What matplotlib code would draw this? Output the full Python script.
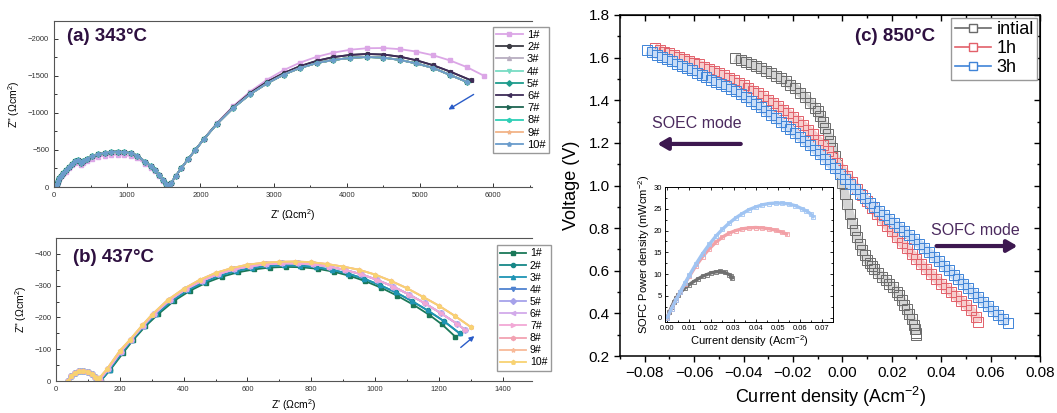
import matplotlib
matplotlib.use('Agg')
import matplotlib.pyplot as plt
from matplotlib.ticker import MultipleLocator
from matplotlib.lines import Line2D

plt.rcParams['font.family'] = ['Liberation Sans', 'DejaVu Sans']
plt.rcParams['mathtext.fontset'] = 'custom'
plt.rcParams['mathtext.rm'] = 'Liberation Sans'
plt.rcParams['mathtext.default'] = 'regular'

## Data ##
# (a) 343C impedance, three visible groups of spectra
a_re_rest = [30, 40, 55, 75, 100, 127, 160, 200, 241, 290, 332, 365, 400, 450, 520, 600, 690, 780, 870, 960,
             1050, 1140, 1243, 1320, 1380, 1440, 1493, 1535, 1565, 1600, 1660, 1740, 1830, 1926, 2050, 2225,
             2450, 2680, 2910, 3140, 3360, 3590, 3815, 4050, 4275, 4500, 4730, 4950, 5180, 5410, 5640]
a_im_rest = [0, -35, -80, -120, -155, -185, -225, -270, -315, -345, -365, -325, -350, -385, -415, -442, -463,
             -475, -478, -473, -458, -425, -342, -285, -230, -165, -95, -40, -5, -55, -145, -255, -375, -495,
             -650, -850, -1070, -1255, -1400, -1520, -1608, -1675, -1716, -1745, -1757, -1748, -1716, -1670,
             -1608, -1514, -1420]
a_re_dark = [30, 40, 55, 75, 100, 127, 160, 200, 241, 290, 332, 365, 400, 450, 520, 600, 690, 780, 870, 960,
             1050, 1140, 1243, 1320, 1380, 1440, 1493, 1535, 1565, 1600, 1660, 1740, 1830, 1926, 2050, 2225,
             2450, 2680, 2910, 3140, 3360, 3590, 3815, 4050, 4275, 4500, 4730, 4950, 5180, 5410, 5700]
a_im_dark = [0, -35, -80, -120, -155, -185, -225, -270, -315, -345, -365, -325, -350, -385, -415, -442, -463,
             -475, -478, -473, -458, -425, -342, -285, -230, -165, -95, -40, -5, -55, -145, -255, -375, -495,
             -652, -855, -1080, -1270, -1420, -1540, -1632, -1705, -1755, -1785, -1797, -1790, -1760, -1712,
             -1645, -1560, -1440]
a_re_1 = [30, 40, 55, 75, 100, 127, 160, 200, 241, 290, 332, 365, 400, 450, 520, 600, 690, 780, 870, 960,
          1050, 1140, 1243, 1320, 1380, 1440, 1493, 1535, 1565, 1600, 1660, 1740, 1830, 1926, 2050, 2225,
          2450, 2680, 2910, 3140, 3360, 3590, 3815, 4050, 4275, 4500, 4730, 4950, 5180, 5410, 5640, 5880]
a_im_1 = [0, -30, -72, -110, -142, -170, -207, -250, -292, -320, -338, -300, -322, -355, -383, -408, -425,
          -435, -437, -432, -418, -388, -312, -260, -210, -150, -85, -35, -5, -55, -145, -255, -375, -495,
          -655, -865, -1095, -1290, -1450, -1580, -1680, -1760, -1815, -1855, -1875, -1878, -1862, -1830,
          -1780, -1710, -1620, -1500]

a_labels = ['1#', '2#', '3#', '4#', '5#', '6#', '7#', '8#', '9#', '10#']
a_colors = ['#dba6e6', '#3c3c44', '#b8aec0', '#78dcc4', '#1e9c8c', '#3e2c58', '#1e6452', '#2ecfb6',
            '#f2b488', '#6a9ccc']
a_markers = ['s', 'o', '^', 'v', 'D', '<', '>', 'h', '*', 'p']
a_group = ['1', 'dark', 'rest', 'rest', 'rest', 'dark', 'rest', 'rest', 'rest', 'rest']

# (b) 437C impedance
b_re_small = [38, 48, 60, 73, 86, 100, 112, 122, 128]
b_im_small = [0, -16, -26, -31, -32, -29, -22, -12, -4]
b_re_g1 = [140, 170, 210, 241, 280, 320, 370, 420, 470, 520, 570, 620, 670, 720, 770, 820, 870, 920, 970,
           1020, 1070, 1120, 1170, 1210, 1251]
b_im_g1 = [0, -35, -88, -128, -172, -210, -252, -284, -309, -328, -342, -351, -357, -359, -358, -353, -344,
           -331, -314, -293, -268, -240, -208, -178, -140]
b_re_g2 = [139, 168, 207, 238, 276, 315, 365, 415, 465, 515, 565, 615, 665, 715, 765, 815, 865, 915, 965,
           1015, 1065, 1115, 1165, 1215, 1265]
b_im_g2 = [0, -36, -90, -129, -173, -211, -254, -287, -312, -332, -346, -356, -362, -364, -363, -358, -350,
           -338, -322, -302, -279, -252, -222, -189, -150]
b_re_g3 = [137, 164, 203, 235, 273, 307, 357, 407, 457, 507, 557, 607, 657, 707, 757, 807, 857, 907, 957,
           1007, 1057, 1107, 1157, 1207, 1257, 1283]
b_im_g3 = [-4, -37, -92, -130, -174, -210, -255, -289, -315, -336, -351, -361, -367, -370, -370, -367, -360,
           -349, -336, -318, -297, -272, -244, -213, -180, -160]
b_re_g4 = [135, 160, 200, 232, 270, 300, 350, 400, 450, 500, 550, 600, 650, 700, 750, 800, 850, 900, 950,
           1000, 1050, 1100, 1150, 1200, 1250, 1300]
b_im_g4 = [-8, -38, -95, -130, -175, -208, -255, -290, -318, -340, -355, -366, -372, -375, -376, -374, -368,
           -360, -350, -335, -315, -292, -265, -237, -205, -170]

b_labels = ['1#', '2#', '3#', '4#', '5#', '6#', '7#', '8#', '9#', '10#']
b_colors = ['#1a7858', '#178888', '#1f94b4', '#4f82d0', '#a6a2ea', '#d2aaea', '#f2a8d6', '#f2a2b2',
            '#f8ba98', '#f8d272']
b_markers = ['s', 'o', '^', 'v', 'D', '<', '>', 'h', '*', 'p']
b_group = ['g1', 'g2', 'g2', 'g3', 'g3', 'g3', 'g3', 'g4', 'g4', 'g4']

# (c) 850C I-V curves
iv_i_initial = [-0.0435, -0.041, -0.039, -0.037, -0.035, -0.033, -0.031, -0.029, -0.027, -0.025, -0.023,
                -0.021, -0.019, -0.017, -0.015, -0.013, -0.011, -0.010, -0.009, -0.008, -0.007, -0.006,
                -0.005, -0.004, -0.003, -0.002, -0.001, 0.000, 0.001, 0.002, 0.003, 0.004, 0.005, 0.006,
                0.007, 0.008, 0.009, 0.010, 0.011, 0.012, 0.013, 0.0145, 0.016, 0.0175, 0.019, 0.0205,
                0.022, 0.023, 0.024, 0.025, 0.026, 0.027, 0.028, 0.029, 0.0295, 0.030, 0.030]
iv_v_initial = [1.600, 1.590, 1.580, 1.570, 1.560, 1.550, 1.539, 1.528, 1.516, 1.503, 1.489, 1.473, 1.456,
                1.436, 1.414, 1.389, 1.365, 1.350, 1.328, 1.300, 1.272, 1.242, 1.210, 1.175, 1.137, 1.097,
                1.055, 1.010, 0.962, 0.913, 0.866, 0.825, 0.790, 0.757, 0.726, 0.697, 0.672, 0.652, 0.635,
                0.620, 0.606, 0.588, 0.572, 0.556, 0.540, 0.522, 0.502, 0.484, 0.463, 0.441, 0.419, 0.396,
                0.372, 0.347, 0.328, 0.310, 0.300]
iv_i_1h = [-0.076, -0.074, -0.072, -0.070, -0.068, -0.066, -0.064, -0.062, -0.060, -0.058, -0.056, -0.054,
           -0.052, -0.050, -0.048, -0.046, -0.044, -0.042, -0.040, -0.038, -0.036, -0.034, -0.032, -0.030,
           -0.028, -0.026, -0.024, -0.022, -0.020, -0.018, -0.016, -0.014, -0.012, -0.010, -0.008, -0.006,
           -0.004, -0.002, 0.000, 0.002, 0.004, 0.006, 0.008, 0.010, 0.012, 0.014, 0.016, 0.018, 0.020,
           0.022, 0.024, 0.026, 0.028, 0.030, 0.032, 0.034, 0.036, 0.038, 0.040, 0.042, 0.044, 0.046,
           0.048, 0.050, 0.052, 0.054, 0.055]
iv_v_1h = [1.645, 1.637, 1.628, 1.620, 1.612, 1.603, 1.595, 1.586, 1.577, 1.568, 1.558, 1.548, 1.538, 1.528,
           1.517, 1.506, 1.494, 1.482, 1.470, 1.458, 1.445, 1.432, 1.418, 1.403, 1.388, 1.372, 1.356, 1.339,
           1.322, 1.303, 1.284, 1.262, 1.240, 1.215, 1.190, 1.163, 1.135, 1.105, 1.075, 1.045, 1.015, 0.985,
           0.955, 0.925, 0.895, 0.867, 0.840, 0.812, 0.785, 0.757, 0.730, 0.705, 0.680, 0.655, 0.630, 0.607,
           0.585, 0.562, 0.540, 0.520, 0.500, 0.480, 0.460, 0.440, 0.415, 0.385, 0.360]
iv_i_3h = [-0.079, -0.077, -0.075, -0.073, -0.071, -0.069, -0.067, -0.065, -0.063, -0.061, -0.059, -0.057,
           -0.055, -0.053, -0.051, -0.049, -0.047, -0.045, -0.043, -0.041, -0.039, -0.037, -0.035, -0.033,
           -0.031, -0.029, -0.027, -0.025, -0.023, -0.021, -0.019, -0.017, -0.015, -0.013, -0.011, -0.009,
           -0.007, -0.005, -0.003, -0.001, 0.001, 0.003, 0.005, 0.007, 0.009, 0.011, 0.013, 0.015, 0.017,
           0.019, 0.021, 0.023, 0.025, 0.027, 0.029, 0.031, 0.033, 0.035, 0.037, 0.039, 0.041, 0.043, 0.045,
           0.047, 0.049, 0.051, 0.053, 0.055, 0.057, 0.059, 0.061, 0.063, 0.065, 0.067]
iv_v_3h = [1.635, 1.625, 1.614, 1.604, 1.593, 1.583, 1.572, 1.562, 1.551, 1.541, 1.530, 1.519, 1.508, 1.497,
           1.486, 1.476, 1.466, 1.454, 1.442, 1.428, 1.413, 1.398, 1.383, 1.367, 1.350, 1.333, 1.316, 1.299,
           1.281, 1.263, 1.245, 1.226, 1.207, 1.188, 1.168, 1.147, 1.126, 1.103, 1.080, 1.055, 1.030, 1.007,
           0.985, 0.962, 0.940, 0.919, 0.898, 0.879, 0.860, 0.841, 0.823, 0.805, 0.786, 0.767, 0.747, 0.727,
           0.707, 0.687, 0.666, 0.645, 0.624, 0.603, 0.582, 0.561, 0.539, 0.517, 0.495, 0.475, 0.454, 0.434,
           0.413, 0.393, 0.373, 0.355]

# inset: SOFC power density
p_i_initial = [0, 0.001, 0.002, 0.003, 0.004, 0.005, 0.006, 0.008, 0.010, 0.012, 0.014, 0.016, 0.018,
               0.020, 0.022, 0.024, 0.026, 0.028, 0.029, 0.0293]
p_p_initial = [0, 1.3, 2.5, 3.6, 4.5, 5.2, 5.8, 6.8, 7.6, 8.3, 8.9, 9.5, 9.9, 10.3, 10.5, 10.6, 10.4, 9.9,
               9.5, 9.1]
p_i_1h = [0, 0.002, 0.004, 0.006, 0.008, 0.010, 0.013, 0.016, 0.019, 0.022, 0.025, 0.028, 0.031, 0.034,
          0.037, 0.040, 0.043, 0.046, 0.049, 0.052, 0.054]
p_p_1h = [0, 2.1, 4.1, 6.0, 7.8, 9.5, 11.9, 14.0, 15.8, 17.3, 18.5, 19.4, 20.0, 20.4, 20.6, 20.7, 20.6,
          20.4, 20.1, 19.6, 19.2]
p_i_3h = [0, 0.002, 0.004, 0.006, 0.008, 0.010, 0.013, 0.016, 0.019, 0.022, 0.025, 0.028, 0.031, 0.034,
          0.037, 0.040, 0.043, 0.046, 0.049, 0.052, 0.055, 0.058, 0.061, 0.063, 0.065, 0.066]
p_p_3h = [0, 2.1, 4.1, 6.0, 7.9, 9.7, 12.3, 14.7, 16.8, 18.7, 20.3, 21.7, 22.9, 23.9, 24.8, 25.4, 25.9,
          26.2, 26.3, 26.3, 26.1, 25.7, 25.0, 24.5, 23.8, 23.2]

c_labels = ['intial', '1h', '3h']
c_colors = ['#6a6a6a', '#e2606a', '#3f84d8']
c_tints = ['#d4d4d4', '#f6cccc', '#c8dcf6']
c_inset_colors = ['#707070', '#f2a0a6', '#a0c4f2']

title_color = '#2e1040'
mode_color = '#4b2a5e'
arrow_color = '#3d1850'

W, H = 1057, 413
fig = plt.figure(figsize=(W / 100, H / 100), dpi=100)


def px_axes(left, top, right, bottom):
    return fig.add_axes([left / W, 1 - bottom / H, (right - left) / W, (bottom - top) / H])


def style_eis(ax):
    ax.spines['right'].set_visible(False)
    for s in ['left', 'bottom', 'top']:
        ax.spines[s].set_linewidth(0.8)
        ax.spines[s].set_color('#555555')
    ax.tick_params(which='both', direction='in', labelsize=5.5, colors='#333333', width=0.7)
    ax.tick_params(which='major', length=3)
    ax.tick_params(which='minor', length=1.8)


## (a) 343C ##
ax_a = px_axes(54, 21, 532, 187)
a_data = {'1': (a_re_1, a_im_1), 'dark': (a_re_dark, a_im_dark), 'rest': (a_re_rest, a_im_rest)}
for lab, col, mk, grp in zip(a_labels, a_colors, a_markers, a_group):
    zr, zi = a_data[grp]
    ax_a.plot(zr, zi, color=col, marker=mk, ms=2.8, lw=1.3, label=lab)
ax_a.set_xlim(0, 6530)
ax_a.set_ylim(0, -2243)
ax_a.xaxis.set_major_locator(MultipleLocator(1000))
ax_a.xaxis.set_minor_locator(MultipleLocator(500))
ax_a.yaxis.set_major_locator(MultipleLocator(500))
ax_a.yaxis.set_minor_locator(MultipleLocator(250))
style_eis(ax_a)
ax_a.set_xlabel("Z' (Ωcm$^{2}$)", fontsize=7.5, labelpad=6)
ax_a.set_ylabel('Z" (Ωcm$^{2}$)', fontsize=7.5, labelpad=4)
ax_a.text(178, -2030, '(a) 343°C', fontsize=13.5, fontweight='bold', color=title_color, va='center')
ax_a.annotate('', xy=(5355, -1027), xytext=(5765, -1270),
              arrowprops=dict(arrowstyle='-|>', color='#2a5cc8', lw=1.0, mutation_scale=7))
ax_a.legend(loc='upper left', bbox_to_anchor=(487 / W, 1 - 21 / H), bbox_transform=fig.transFigure,
            fontsize=8, handlelength=2.4, labelspacing=0.2, borderpad=0.3, handletextpad=0.4,
            frameon=True, fancybox=False, edgecolor='#999999', framealpha=1)

## (b) 437C ##
ax_b = px_axes(56, 238, 532, 381)
b_data = {'g1': (b_re_g1, b_im_g1), 'g2': (b_re_g2, b_im_g2), 'g3': (b_re_g3, b_im_g3),
          'g4': (b_re_g4, b_im_g4)}
for lab, col, mk, grp in zip(b_labels, b_colors, b_markers, b_group):
    zr, zi = b_data[grp]
    ax_b.plot(b_re_small + zr, b_im_small + zi, color=col, marker=mk, ms=3.0, lw=1.3, label=lab)
ax_b.set_xlim(0, 1492)
ax_b.set_ylim(0, -450)
ax_b.xaxis.set_major_locator(MultipleLocator(200))
ax_b.xaxis.set_minor_locator(MultipleLocator(100))
ax_b.yaxis.set_major_locator(MultipleLocator(100))
ax_b.yaxis.set_minor_locator(MultipleLocator(50))
style_eis(ax_b)
ax_b.set_xlabel("Z' (Ωcm$^{2}$)", fontsize=7.5, labelpad=3)
ax_b.set_ylabel('Z" (Ωcm$^{2}$)', fontsize=7.5, labelpad=4)
ax_b.text(53, -390, '(b) 437°C', fontsize=13.5, fontweight='bold', color=title_color, va='center')
ax_b.annotate('', xy=(1318, -147), xytext=(1262, -100),
              arrowprops=dict(arrowstyle='-|>', color='#2a5cc8', lw=1.0, mutation_scale=7))
ax_b.legend(loc='upper left', bbox_to_anchor=(492 / W, 1 - 240 / H), bbox_transform=fig.transFigure,
            fontsize=7.6, handlelength=2.4, labelspacing=0.2, borderpad=0.3, handletextpad=0.4,
            frameon=True, fancybox=False, edgecolor='#999999', framealpha=1)

## (c) 850C I-V ##
ax_c = px_axes(620, 15, 1040, 356)
c_data = [(iv_i_initial, iv_v_initial), (iv_i_1h, iv_v_1h), (iv_i_3h, iv_v_3h)]
for (ci, cv), col, tint in zip(c_data, c_colors, c_tints):
    # light band under the dense hollow squares
    ax_c.plot(ci, cv, color=tint, lw=6.5, solid_capstyle='butt', solid_joinstyle='round')
    ax_c.plot(ci, cv, ls='none', marker='s', ms=6.8, mfc='none', mec=col, mew=0.7)
ax_c.set_xlim(-0.09, 0.08)
ax_c.set_ylim(0.2, 1.8)
ax_c.set_xticks([-0.08, -0.06, -0.04, -0.02, 0.00, 0.02, 0.04, 0.06, 0.08])
ax_c.xaxis.set_minor_locator(MultipleLocator(0.01))
ax_c.yaxis.set_major_locator(MultipleLocator(0.2))
ax_c.yaxis.set_minor_locator(MultipleLocator(0.1))
ax_c.xaxis.set_major_formatter(lambda v, pos: f'{v:.2f}'.replace('-', '\u2212'))
ax_c.yaxis.set_major_formatter(lambda v, pos: f'{v:.1f}')
for s in ax_c.spines.values():
    s.set_linewidth(1.1)
ax_c.tick_params(which='both', direction='out', labelsize=11, width=1.0)
ax_c.tick_params(which='major', length=4)
ax_c.tick_params(which='minor', length=2.5)
sec_x = ax_c.secondary_xaxis('top')
sec_x.set_xticks(ax_c.get_xticks())
sec_x.xaxis.set_minor_locator(MultipleLocator(0.01))
sec_x.tick_params(which='both', direction='in', labeltop=False, width=1.0)
sec_x.tick_params(which='major', length=4)
sec_x.tick_params(which='minor', length=2.5)
sec_y = ax_c.secondary_yaxis('right')
sec_y.yaxis.set_major_locator(MultipleLocator(0.2))
sec_y.yaxis.set_minor_locator(MultipleLocator(0.1))
sec_y.tick_params(which='both', direction='in', labelright=False, width=1.0)
sec_y.tick_params(which='major', length=4)
sec_y.tick_params(which='minor', length=2.5)
ax_c.set_xlabel('Current density (Acm$^{-2}$)', fontsize=13, labelpad=3)
ax_c.set_ylabel('Voltage (V)', fontsize=13, labelpad=6)

ax_c.text(0.005, 1.70, '(c) 850°C', fontsize=13.5, fontweight='bold', color=title_color, va='center')
ax_c.text(-0.059, 1.293, 'SOEC mode', fontsize=11.5, color=mode_color, ha='center', va='center')
ax_c.annotate('', xy=(-0.076, 1.195), xytext=(-0.040, 1.195),
              arrowprops=dict(arrowstyle='-|>,head_width=0.35,head_length=0.6', color=arrow_color,
                              lw=3, mutation_scale=10))
ax_c.text(0.054, 0.79, 'SOFC mode', fontsize=11.5, color=mode_color, ha='center', va='center')
ax_c.annotate('', xy=(0.072, 0.716), xytext=(0.037, 0.716),
              arrowprops=dict(arrowstyle='-|>,head_width=0.35,head_length=0.6', color=arrow_color,
                              lw=3, mutation_scale=10))

handles = [Line2D([], [], color=col, marker='s', ms=5.5, mfc='white', mec=col, lw=1.2)
           for col in c_colors]
ax_c.legend(handles, c_labels, loc='upper right', fontsize=13, handlelength=2.0, labelspacing=0.1,
            borderpad=0.2, handletextpad=0.3, borderaxespad=0.15, frameon=True, fancybox=False,
            edgecolor='#999999', framealpha=1)

## inset power density ##
ax_in = px_axes(665, 187, 833, 322)
p_data = [(p_i_initial, p_p_initial), (p_i_1h, p_p_1h), (p_i_3h, p_p_3h)]
for (pi, pp), col in zip(p_data, c_inset_colors):
    ax_in.plot(pi, pp, color=col, lw=2.4, marker='s', ms=2.4, mfc='none', mec=col, mew=0.6)
ax_in.set_xlim(-0.001, 0.075)
ax_in.set_ylim(-1, 30)
ax_in.xaxis.set_major_locator(MultipleLocator(0.01))
ax_in.xaxis.set_minor_locator(MultipleLocator(0.005))
ax_in.yaxis.set_major_locator(MultipleLocator(5))
ax_in.yaxis.set_minor_locator(MultipleLocator(2.5))
ax_in.xaxis.set_major_formatter(lambda v, pos: f'{v:.2f}')
ax_in.tick_params(which='both', direction='in', top=True, right=True, labelsize=5.5, width=0.6, pad=2)
ax_in.tick_params(which='major', length=2.5)
ax_in.tick_params(which='minor', length=1.5)
for s in ax_in.spines.values():
    s.set_linewidth(0.7)
ax_in.set_xlabel('Current density (Acm$^{-2}$)', fontsize=8, labelpad=1)
ax_in.set_ylabel('SOFC Power density (mWcm$^{-2}$)', fontsize=8, labelpad=1)

fig.savefig('out.png', dpi=100)
